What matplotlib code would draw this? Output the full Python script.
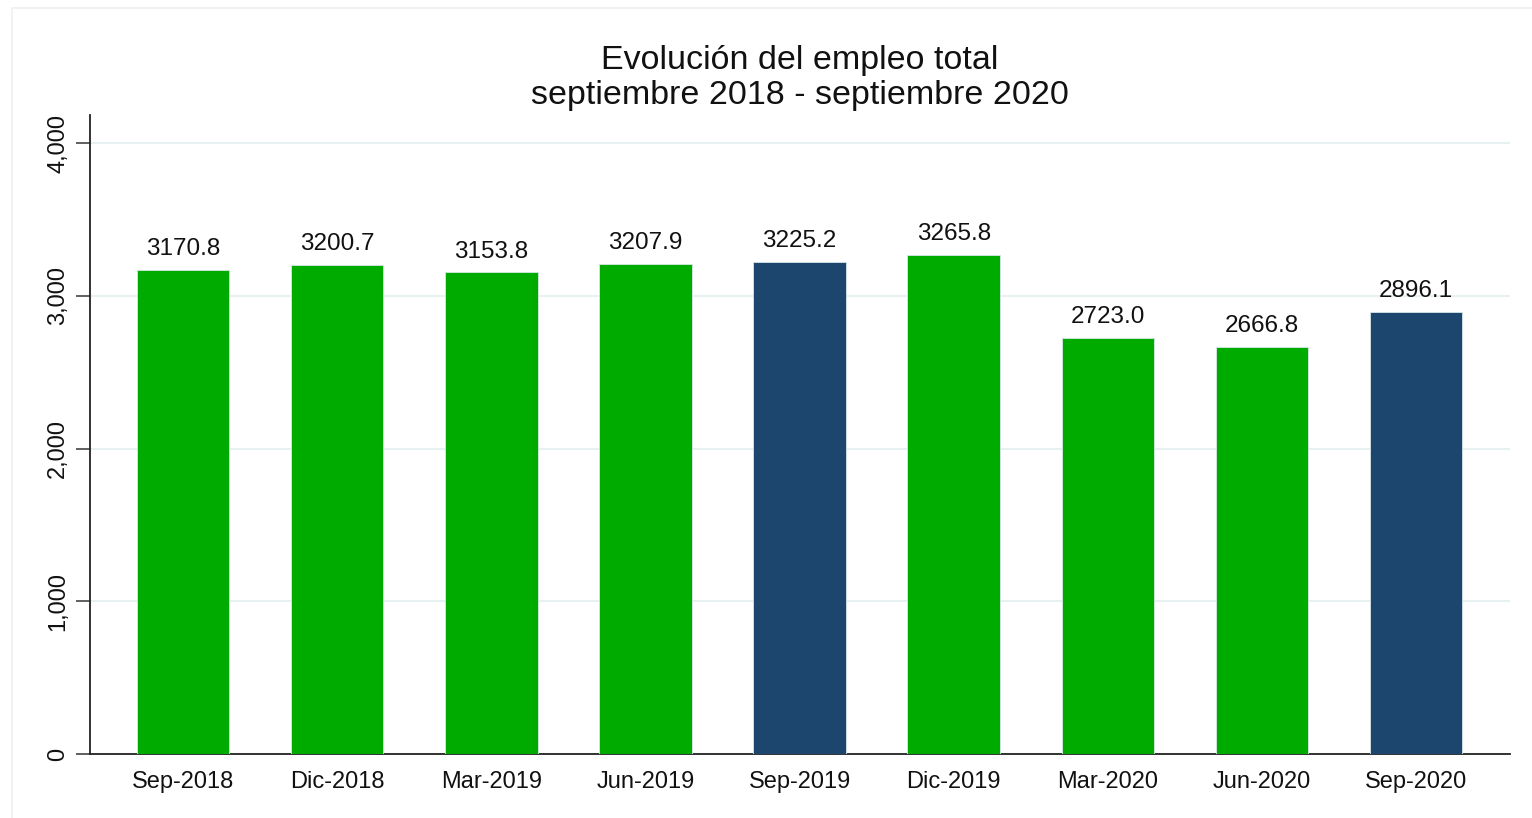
import matplotlib.pyplot as plt
from matplotlib.patches import Rectangle
from matplotlib.ticker import FuncFormatter

plt.rcParams['font.family'] = ['Liberation Sans', 'DejaVu Sans']

periodos = ['Sep-2018', 'Dic-2018', 'Mar-2019', 'Jun-2019', 'Sep-2019',
            'Dic-2019', 'Mar-2020', 'Jun-2020', 'Sep-2020']
empleo = [3170.8, 3200.7, 3153.8, 3207.9, 3225.2, 3265.8, 2723.0, 2666.8, 2896.1]
destacado = [False, False, False, False, True, False, False, False, True]

VERDE = '#00AB00'
AZUL = '#1C466D'
colores = [AZUL if d else VERDE for d in destacado]

fig = plt.figure(figsize=(15.32, 8.18), dpi=100)
fig.patches.append(Rectangle((0.008, -0.01), 1.0, 1.0, transform=fig.transFigure,
                             facecolor='none', edgecolor='#f0f0f0', linewidth=1.2))
ax = fig.add_axes([0.0587, 0.0782, 0.9269, 0.7812])

x = range(len(periodos))
bars = ax.bar(x, empleo, width=0.6, color=colores, edgecolor='#d8e6e8',
              linewidth=0.6, zorder=3)

for b, v in zip(bars, empleo):
    ax.text(b.get_x() + b.get_width() / 2, v + 65, f'{v:.1f}',
            ha='center', va='bottom', fontsize=17.5, color='#111111', zorder=4)

ax.set_xlim(-0.605, 8.61)
ax.set_ylim(0, 4185)
ax.set_yticks([0, 1000, 2000, 3000, 4000])
ax.yaxis.set_major_formatter(FuncFormatter(lambda v, p: f'{int(v):,}'))
ax.set_xticks(list(x))
ax.set_xticklabels(periodos, fontsize=17, color='#111111')
ax.tick_params(axis='x', length=0, pad=12)
ax.tick_params(axis='y', length=10, width=1.2, color='#444444', labelsize=17,
               labelcolor='#111111', pad=5)
for lab in ax.get_yticklabels():
    lab.set_rotation(90)
    lab.set_va('center')

ax.grid(axis='y', color='#e8f1f2', linewidth=1.5, zorder=0)
ax.set_axisbelow(True)
for s in ['top', 'right']:
    ax.spines[s].set_visible(False)
ax.spines['left'].set_color('#222222')
ax.spines['bottom'].set_color('#222222')
ax.spines['left'].set_linewidth(1.3)
ax.spines['bottom'].set_linewidth(1.3)

fig.text(0.522, 0.9045, 'Evolución del empleo total\nseptiembre 2018 - septiembre 2020',
         ha='center', va='center', fontsize=24.5, linespacing=1.14, color='#111111')

fig.savefig('out.png', dpi=100)
